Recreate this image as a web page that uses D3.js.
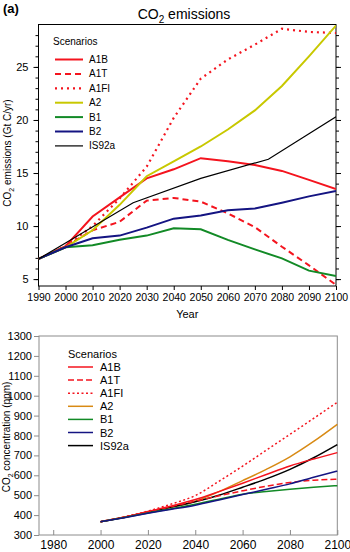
<!DOCTYPE html>
<html>
<head>
<meta charset="utf-8">
<script src="https://cdn.jsdelivr.net/npm/d3@7"></script>
<style>
  body { margin: 0; background: #fff; }
  svg { display: block; font-family: "Liberation Sans", Arial, sans-serif; }
</style>
</head>
<body>
<div id="chart-area"></div>
<script>
// (a) emissions, Gt C/yr
const emYears = [1990, 2000, 2010, 2020, 2030, 2040, 2050, 2060, 2070, 2080, 2090, 2100];
const emA1B  = [6.9, 8.1, 10.9, 12.7, 14.5, 15.35, 16.4, 16.1, 15.75, 15.2, 14.35, 13.5];
const emA1T  = [6.9, 8.1, 9.6, 10.4, 12.4, 12.65, 12.3, 11.2, 9.9, 8.05, 6.3, 4.45];
const emA1FI = [6.9, 8.1, 10.0, 12.6, 15.6, 20.2, 23.9, 25.7, 27.1, 28.6, 28.3, 28.2];
const emA2   = [6.9, 8.0, 9.6, 12.0, 14.7, 16.1, 17.5, 19.1, 20.9, 23.2, 26.0, 28.9];
const emB1   = [6.9, 8.0, 8.2, 8.7, 9.1, 9.8, 9.7, 8.7, 7.8, 6.95, 5.8, 5.3];
const emB2   = [6.9, 8.0, 8.85, 9.1, 9.85, 10.7, 11.0, 11.5, 11.65, 12.2, 12.8, 13.3];
const isYears = [1990, 2000, 2025, 2050, 2075, 2100];
const emIS92a = [6.9, 8.4, 12.2, 14.5, 16.3, 20.3];
const emYTicks = [5, 10, 15, 20, 25];
const emXTicks = d3.range(1990, 2101, 10);

// (b) concentrations, ppm
const ccYears = [2000, 2010, 2020, 2030, 2040, 2050, 2060, 2070, 2080, 2090, 2100];
const ccA1B  = [367, 390, 418, 446, 478, 518, 560, 604, 647, 682, 714];
const ccA1T  = [367, 390, 416, 443, 470, 497, 522, 545, 564, 575, 580];
const ccA1FI = [367, 391, 420, 456, 498, 570, 646, 726, 806, 886, 967];
const ccA2   = [367, 389, 414, 440, 470, 518, 573, 630, 693, 770, 856];
const ccB1   = [367, 388, 411, 432, 455, 480, 505, 518, 530, 540, 548];
const ccB2   = [367, 387, 409, 429, 450, 476, 503, 530, 557, 590, 621];
const ccIS92a = [367, 388, 414, 440, 467, 500, 540, 582, 630, 688, 754];
const ccYTicks = d3.range(300, 1301, 100);
const ccXTicks = [1980, 2000, 2020, 2040, 2060, 2080, 2100];

const svg = d3.select('#chart-area')
  .append('svg')
  .attr('width', 350)
  .attr('height', 552);

// ---------- panel (a) ----------
const ma = { left: 38.5, top: 24.5, right: 336, bottom: 286 };

const xa = d3.scaleLinear().domain([1990, 2100]).range([ma.left, ma.right]);
const ya = d3.scaleLinear().domain([4.35, 29]).range([ma.bottom, ma.top]);

const ga = svg.append('g');

ga.append('text')
  .attr('x', 3)
  .attr('y', 13)
  .attr('font-size', '13px')
  .attr('font-weight', 'bold')
  .text('(a)');

const titleA = ga.append('text')
  .attr('x', 184)
  .attr('y', 19)
  .attr('font-size', '14px')
  .attr('text-anchor', 'middle');
titleA.append('tspan').text('CO');
titleA.append('tspan').attr('font-size', '10px').attr('dy', 4).text('2');
titleA.append('tspan').attr('dy', -4).text(' emissions');

// frame
ga.append('rect')
  .attr('x', ma.left)
  .attr('y', ma.top)
  .attr('width', ma.right - ma.left)
  .attr('height', ma.bottom - ma.top)
  .attr('fill', 'none')
  .attr('stroke', '#000')
  .attr('stroke-width', 1);

const minorA = d3.range(5, 29, 1);

ga.append('g')
  .attr('transform', 'translate(' + ma.left + ', 0)')
  .call(d3.axisLeft(ya).tickValues(minorA).tickSize(3).tickFormat(''))
  .call(g => g.select('.domain').remove());
ga.append('g')
  .attr('transform', 'translate(' + ma.left + ', 0)')
  .call(d3.axisLeft(ya).tickValues(emYTicks).tickSize(5).tickPadding(5))
  .call(g => g.select('.domain').remove())
  .selectAll('text')
    .attr('font-size', '11px');

ga.append('g')
  .attr('transform', 'translate(' + ma.right + ', 0)')
  .call(d3.axisRight(ya).tickValues(minorA).tickSize(3).tickFormat(''))
  .call(g => g.select('.domain').remove());
ga.append('g')
  .attr('transform', 'translate(' + ma.right + ', 0)')
  .call(d3.axisRight(ya).tickValues(emYTicks).tickSize(5).tickFormat(''))
  .call(g => g.select('.domain').remove());

ga.append('g')
  .attr('transform', 'translate(0, ' + ma.bottom + ')')
  .call(d3.axisBottom(xa).tickValues(emXTicks).tickSize(4).tickPadding(4).tickFormat(d3.format('d')))
  .call(g => g.select('.domain').remove())
  .selectAll('text')
    .attr('font-size', '10.5px');

ga.append('text')
  .attr('x', (ma.left + ma.right) / 2)
  .attr('y', 318)
  .attr('font-size', '11px')
  .attr('text-anchor', 'middle')
  .text('Year');

const ylabA = ga.append('text')
  .attr('transform', 'translate(11, 153) rotate(-90)')
  .attr('font-size', '10px')
  .attr('text-anchor', 'middle');
ylabA.append('tspan').text('CO');
ylabA.append('tspan').attr('font-size', '7px').attr('dy', 3).text('2');
ylabA.append('tspan').attr('dy', -3).text(' emissions (Gt C/yr)');

const seriesA = [
  { name: 'A1B', years: emYears, values: emA1B, color: '#f4141e', width: 2, dash: null },
  { name: 'A1T', years: emYears, values: emA1T, color: '#f4141e', width: 2, dash: '6,4' },
  { name: 'A1FI', years: emYears, values: emA1FI, color: '#f4141e', width: 2.2, dash: '2,4' },
  { name: 'A2', years: emYears, values: emA2, color: '#c8c800', width: 2, dash: null },
  { name: 'B1', years: emYears, values: emB1, color: '#128a26', width: 2, dash: null },
  { name: 'B2', years: emYears, values: emB2, color: '#141482', width: 2, dash: null },
  { name: 'IS92a', years: isYears, values: emIS92a, color: '#000', width: 1.2, dash: null }
];

const lineA = d3.line()
  .x(d => xa(d[0]))
  .y(d => ya(d[1]));

svg.append('clipPath').attr('id', 'clipA')
  .append('rect')
  .attr('x', ma.left).attr('y', ma.top - 2)
  .attr('width', ma.right - ma.left).attr('height', ma.bottom - ma.top + 2);

ga.append('g')
  .attr('clip-path', 'url(#clipA)')
  .selectAll('path')
  .data(seriesA)
  .enter()
  .append('path')
  .attr('d', s => lineA(s.years.map((yr, i) => [yr, s.values[i]])))
  .attr('fill', 'none')
  .attr('stroke', s => s.color)
  .attr('stroke-width', s => s.width)
  .attr('stroke-dasharray', s => s.dash);

// legend (a)
const legA = ga.append('g');
legA.append('text')
  .attr('x', 53)
  .attr('y', 45)
  .attr('font-size', '10px')
  .text('Scenarios');
const rowA = legA.selectAll('g.row')
  .data(seriesA)
  .enter()
  .append('g')
  .attr('class', 'row')
  .attr('transform', (s, i) => 'translate(0, ' + (59.5 + i * 14.4) + ')');
rowA.append('line')
  .attr('x1', 55).attr('x2', 83)
  .attr('stroke', s => s.color)
  .attr('stroke-width', s => s.width)
  .attr('stroke-dasharray', s => s.dash);
rowA.append('text')
  .attr('x', 89)
  .attr('y', 3.5)
  .attr('font-size', '10px')
  .text(s => s.name);

// ---------- panel (b) ----------
const mb = { left: 39, top: 336, right: 337.3, bottom: 535 };

const xb = d3.scaleLinear().domain([1974, 2100]).range([mb.left, mb.right]);
const yb = d3.scaleLinear().domain([300, 1300]).range([mb.bottom, mb.top]);

const gb = svg.append('g');

gb.append('rect')
  .attr('x', mb.left)
  .attr('y', mb.top)
  .attr('width', mb.right - mb.left)
  .attr('height', mb.bottom - mb.top)
  .attr('fill', 'none')
  .attr('stroke', '#8c8c8c')
  .attr('stroke-width', 1);

gb.append('g')
  .attr('transform', 'translate(' + mb.left + ', 0)')
  .call(d3.axisLeft(yb).tickValues(ccYTicks).tickSize(5).tickPadding(2).tickFormat(d3.format('d')))
  .call(g => g.select('.domain').remove())
  .call(g => g.selectAll('line').attr('stroke', '#8c8c8c'))
  .selectAll('text')
    .attr('font-size', '11px');

gb.append('g')
  .attr('transform', 'translate(0, ' + mb.bottom + ')')
  .call(d3.axisBottom(xb).tickValues(ccXTicks).tickSize(-5).tickPadding(5).tickFormat(d3.format('d')))
  .call(g => g.select('.domain').remove())
  .call(g => g.selectAll('line').attr('stroke', '#8c8c8c'))
  .selectAll('text')
    .attr('font-size', '12px');

const ylabB = gb.append('text')
  .attr('transform', 'translate(9.5, 437) rotate(-90)')
  .attr('font-size', '10px')
  .attr('text-anchor', 'middle');
ylabB.append('tspan').text('CO');
ylabB.append('tspan').attr('font-size', '7px').attr('dy', 3).text('2');
ylabB.append('tspan').attr('dy', -3).text(' concentration (ppm)');

const seriesB = [
  { name: 'A1B', values: ccA1B, color: '#f4141e', dash: null },
  { name: 'A1T', values: ccA1T, color: '#f4141e', dash: '6,3' },
  { name: 'A1FI', values: ccA1FI, color: '#f4141e', dash: '2,2.5' },
  { name: 'A2', values: ccA2, color: '#d88a14', dash: null },
  { name: 'B1', values: ccB1, color: '#128a26', dash: null },
  { name: 'B2', values: ccB2, color: '#141482', dash: null },
  { name: 'IS92a', values: ccIS92a, color: '#000', dash: null }
];

const lineB = d3.line()
  .x(d => xb(d[0]))
  .y(d => yb(d[1]))
  .curve(d3.curveMonotoneX);

// draw order so the lower curves sit on top near 2000
const drawB = ['A1FI', 'A2', 'IS92a', 'A1B', 'A1T', 'B1', 'B2'];
gb.append('g')
  .selectAll('path')
  .data(drawB.map(n => seriesB.find(s => s.name === n)))
  .enter()
  .append('path')
  .attr('d', s => lineB(ccYears.map((yr, i) => [yr, s.values[i]])))
  .attr('fill', 'none')
  .attr('stroke', s => s.color)
  .attr('stroke-width', 1.5)
  .attr('stroke-dasharray', s => s.dash);

// legend (b)
const legB = gb.append('g');
legB.append('text')
  .attr('x', 68)
  .attr('y', 358)
  .attr('font-size', '11px')
  .text('Scenarios');
const rowB = legB.selectAll('g.row')
  .data(seriesB)
  .enter()
  .append('g')
  .attr('class', 'row')
  .attr('transform', (s, i) => 'translate(0, ' + (367 + i * 13.1) + ')');
rowB.append('line')
  .attr('x1', 68).attr('x2', 93)
  .attr('stroke', s => s.color)
  .attr('stroke-width', 1.5)
  .attr('stroke-dasharray', s => s.dash);
rowB.append('text')
  .attr('x', 100)
  .attr('y', 4)
  .attr('font-size', '11px')
  .text(s => s.name);
</script>
</body>
</html>
